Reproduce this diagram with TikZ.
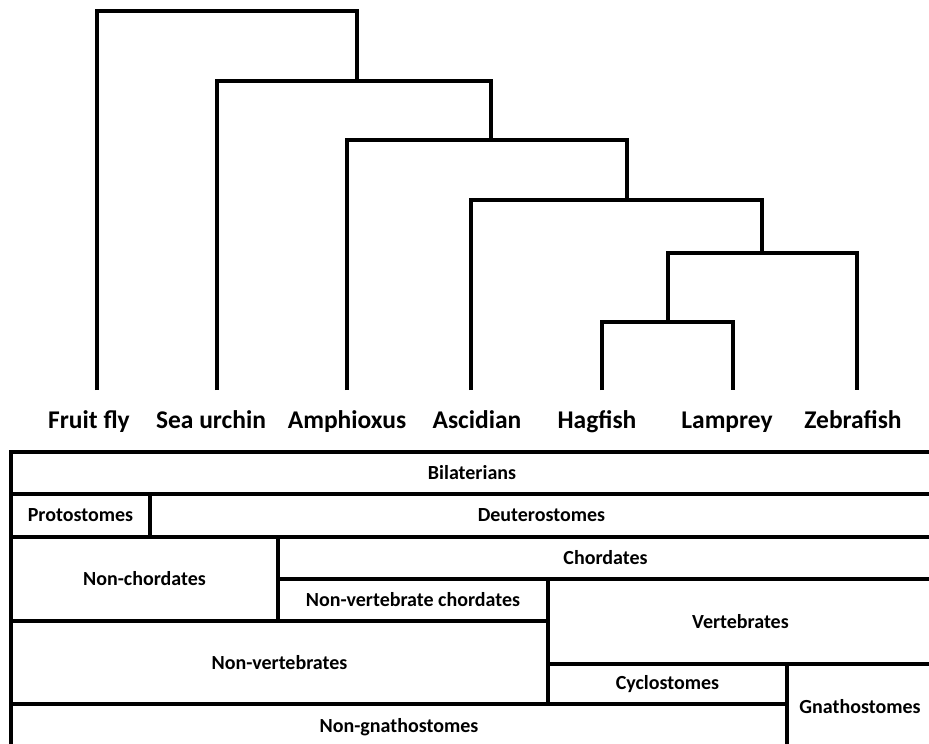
\documentclass[tikz,border=0pt]{standalone}
\usepackage{fontspec}
\setmainfont{Carlito}
\usepackage{tikz}
\usetikzlibrary{positioning}

\begin{document}
\begin{tikzpicture}[
    x=1pt,y=-1pt,
    branch/.style={line width=3.2pt},
    taxon/.style={anchor=base,inner sep=0pt,font=\fontsize{25.5}{30}\selectfont\bfseries},
    cell/.style={draw,line width=3.2pt,inner sep=0pt,font=\fontsize{20}{24}\selectfont\bfseries}
    ]
\clip (0,0) rectangle (929,744);

% leaf tips and branch points
\coordinate (tFly) at (97,390);
\coordinate (tUrchin) at (217,390);
\coordinate (tAmphi) at (347,390);
\coordinate (tAscid) at (471,390);
\coordinate (tHag) at (602,390);
\coordinate (tLamp) at (733,390);
\coordinate (tZebra) at (857,390);

\coordinate (nHL) at (668,322);
\coordinate (nHLZ) at (762,253);
\coordinate (nAscid) at (627,200);
\coordinate (nAmphi) at (491,140);
\coordinate (nUrchin) at (357,81);
\coordinate (nRoot) at (227,11);

\draw[branch] (tHag) |- (nHL) -| (tLamp);
\draw[branch] (nHL) |- (nHLZ) -| (tZebra);
\draw[branch] (tAscid) |- (nAscid) -| (nHLZ);
\draw[branch] (tAmphi) |- (nAmphi) -| (nAscid);
\draw[branch] (tUrchin) |- (nUrchin) -| (nAmphi);
\draw[branch] (tFly) |- (nRoot) -| (nUrchin);

\node[taxon] (fly) at (89,428) {Fruit fly};
\node[taxon] (urchin) at (211,428) {Sea urchin};
\node[taxon] (amphi) at (347,428) {Amphioxus};
\node[taxon] (ascid) at (477,428) {Ascidian};
\node[taxon] (hag) at (597,428) {Hagfish};
\node[taxon] (lamp) at (727,428) {Lamprey};
\node[taxon] (zebra) at (853,428) {Zebrafish};

% groups
\node[cell,minimum width=922,minimum height=42] (bilat) at (472,473) {Bilaterians};
\node[cell,minimum width=139,minimum height=43] (proto) at (80.5,515.5) {Protostomes};
\node[cell,minimum width=783,minimum height=43] (deutero) at (541.5,515.5) {Deuterostomes};
\node[cell,minimum width=267,minimum height=84] (nonchord) at (144.5,579) {Non-chordates};
\node[cell,minimum width=655,minimum height=42] (chord) at (605.5,558) {Chordates};
\node[cell,minimum width=270,minimum height=42] (nvchord) at (413,600) {Non-vertebrate chordates};
\node[cell,minimum width=385,minimum height=85] (vert) at (740.5,621.5) {Vertebrates};
\node[cell,minimum width=537,minimum height=83] (nonvert) at (279.5,662.5) {Non-vertebrates};
\node[cell,minimum width=239,minimum height=40] (cyclo) at (667.5,684) {Cyclostomes};
\node[cell,minimum width=146,minimum height=86] (gnatho) at (860,707) {Gnathostomes};
\node[cell,minimum width=776,minimum height=46] (nongnatho) at (399,727) {Non-gnathostomes};

\end{tikzpicture}
\end{document}
